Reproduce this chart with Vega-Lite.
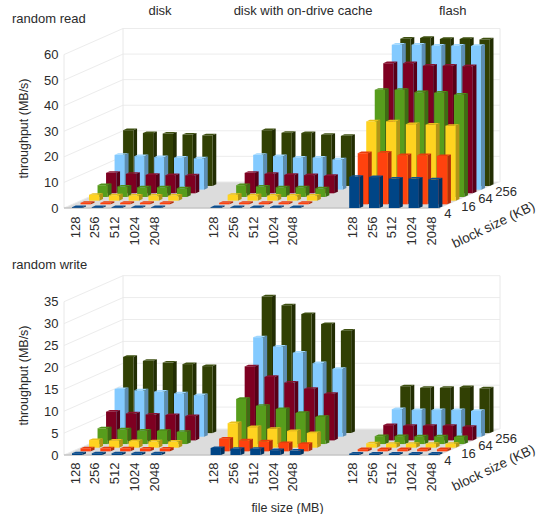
{"$schema":"https://vega.github.io/schema/vega-lite/v6.json","padding":{"left":12,"top":5,"right":0,"bottom":0},"spacing":67,"bounds":"flush","config":{"view":{"stroke":null},"font":"Liberation Sans","text":{"font":"Liberation Sans","fontSize":13,"color":"#2b2b2b"},"axis":{"labelFont":"Liberation Sans","titleFont":"Liberation Sans","labelFontSize":13,"titleFontSize":12.5,"labelColor":"#2b2b2b","titleColor":"#2b2b2b","titleFontWeight":"normal","grid":false,"domain":false,"ticks":false,"labelOverlap":false,"labelFlush":false,"labelBound":false}},"datasets":{"read":[
{"device":"disk","file":128,"block":256,"v":21.8},{"device":"disk","file":256,"block":256,"v":20.7},{"device":"disk","file":512,"block":256,"v":20.5},{"device":"disk","file":1024,"block":256,"v":20.1},{"device":"disk","file":2048,"block":256,"v":19.8},
{"device":"disk with on-drive cache","file":128,"block":256,"v":21.8},{"device":"disk with on-drive cache","file":256,"block":256,"v":20.8},{"device":"disk with on-drive cache","file":512,"block":256,"v":20.7},{"device":"disk with on-drive cache","file":1024,"block":256,"v":20.0},{"device":"disk with on-drive cache","file":2048,"block":256,"v":19.6},
{"device":"flash","file":128,"block":256,"v":57.6},{"device":"flash","file":256,"block":256,"v":57.9},{"device":"flash","file":512,"block":256,"v":57.5},{"device":"flash","file":1024,"block":256,"v":57.5},{"device":"flash","file":2048,"block":256,"v":57.3},
{"device":"disk","file":128,"block":128,"v":13.6},{"device":"disk","file":256,"block":128,"v":13.1},{"device":"disk","file":512,"block":128,"v":12.7},{"device":"disk","file":1024,"block":128,"v":12.5},{"device":"disk","file":2048,"block":128,"v":12.2},
{"device":"disk with on-drive cache","file":128,"block":128,"v":13.6},{"device":"disk with on-drive cache","file":256,"block":128,"v":13.1},{"device":"disk with on-drive cache","file":512,"block":128,"v":12.5},{"device":"disk with on-drive cache","file":1024,"block":128,"v":12.5},{"device":"disk with on-drive cache","file":2048,"block":128,"v":11.8},
{"device":"flash","file":128,"block":128,"v":56.7},{"device":"flash","file":256,"block":128,"v":56.7},{"device":"flash","file":512,"block":128,"v":56.3},{"device":"flash","file":1024,"block":128,"v":56.3},{"device":"flash","file":2048,"block":128,"v":56.2},
{"device":"disk","file":128,"block":64,"v":8.0},{"device":"disk","file":256,"block":64,"v":7.6},{"device":"disk","file":512,"block":64,"v":7.2},{"device":"disk","file":1024,"block":64,"v":7.1},{"device":"disk","file":2048,"block":64,"v":7.0},
{"device":"disk with on-drive cache","file":128,"block":64,"v":8.0},{"device":"disk with on-drive cache","file":256,"block":64,"v":7.6},{"device":"disk with on-drive cache","file":512,"block":64,"v":7.2},{"device":"disk with on-drive cache","file":1024,"block":64,"v":7.1},{"device":"disk with on-drive cache","file":2048,"block":64,"v":6.8},
{"device":"flash","file":128,"block":64,"v":50.9},{"device":"flash","file":256,"block":64,"v":50.9},{"device":"flash","file":512,"block":64,"v":49.9},{"device":"flash","file":1024,"block":64,"v":49.9},{"device":"flash","file":2048,"block":64,"v":49.7},
{"device":"disk","file":128,"block":32,"v":4.6},{"device":"disk","file":256,"block":32,"v":4.1},{"device":"disk","file":512,"block":32,"v":3.8},{"device":"disk","file":1024,"block":32,"v":3.8},{"device":"disk","file":2048,"block":32,"v":3.4},
{"device":"disk with on-drive cache","file":128,"block":32,"v":4.6},{"device":"disk with on-drive cache","file":256,"block":32,"v":4.1},{"device":"disk with on-drive cache","file":512,"block":32,"v":3.8},{"device":"disk with on-drive cache","file":1024,"block":32,"v":3.8},{"device":"disk with on-drive cache","file":2048,"block":32,"v":3.4},
{"device":"flash","file":128,"block":32,"v":41.9},{"device":"flash","file":256,"block":32,"v":41.9},{"device":"flash","file":512,"block":32,"v":41.0},{"device":"flash","file":1024,"block":32,"v":40.8},{"device":"flash","file":2048,"block":32,"v":40.0},
{"device":"disk","file":128,"block":16,"v":2.3},{"device":"disk","file":256,"block":16,"v":2.1},{"device":"disk","file":512,"block":16,"v":2.0},{"device":"disk","file":1024,"block":16,"v":2.0},{"device":"disk","file":2048,"block":16,"v":2.0},
{"device":"disk with on-drive cache","file":128,"block":16,"v":2.3},{"device":"disk with on-drive cache","file":256,"block":16,"v":2.1},{"device":"disk with on-drive cache","file":512,"block":16,"v":2.0},{"device":"disk with on-drive cache","file":1024,"block":16,"v":2.0},{"device":"disk with on-drive cache","file":2048,"block":16,"v":2.0},
{"device":"flash","file":128,"block":16,"v":31.0},{"device":"flash","file":256,"block":16,"v":31.0},{"device":"flash","file":512,"block":16,"v":29.9},{"device":"flash","file":1024,"block":16,"v":29.7},{"device":"flash","file":2048,"block":16,"v":29.3},
{"device":"disk","file":128,"block":8,"v":0.6},{"device":"disk","file":256,"block":8,"v":0.6},{"device":"disk","file":512,"block":8,"v":0.6},{"device":"disk","file":1024,"block":8,"v":0.6},{"device":"disk","file":2048,"block":8,"v":0.6},
{"device":"disk with on-drive cache","file":128,"block":8,"v":0.6},{"device":"disk with on-drive cache","file":256,"block":8,"v":0.6},{"device":"disk with on-drive cache","file":512,"block":8,"v":0.6},{"device":"disk with on-drive cache","file":1024,"block":8,"v":0.6},{"device":"disk with on-drive cache","file":2048,"block":8,"v":0.6},
{"device":"flash","file":128,"block":8,"v":20.0},{"device":"flash","file":256,"block":8,"v":20.2},{"device":"flash","file":512,"block":8,"v":19.2},{"device":"flash","file":1024,"block":8,"v":19.2},{"device":"flash","file":2048,"block":8,"v":18.9},
{"device":"disk","file":128,"block":4,"v":0.3},{"device":"disk","file":256,"block":4,"v":0.3},{"device":"disk","file":512,"block":4,"v":0.3},{"device":"disk","file":1024,"block":4,"v":0.3},{"device":"disk","file":2048,"block":4,"v":0.3},
{"device":"disk with on-drive cache","file":128,"block":4,"v":0.3},{"device":"disk with on-drive cache","file":256,"block":4,"v":0.3},{"device":"disk with on-drive cache","file":512,"block":4,"v":0.3},{"device":"disk with on-drive cache","file":1024,"block":4,"v":0.3},{"device":"disk with on-drive cache","file":2048,"block":4,"v":0.3},
{"device":"flash","file":128,"block":4,"v":12.2},{"device":"flash","file":256,"block":4,"v":12.1},{"device":"flash","file":512,"block":4,"v":11.5},{"device":"flash","file":1024,"block":4,"v":11.5},{"device":"flash","file":2048,"block":4,"v":11.2}
],"write":[
{"device":"disk","file":128,"block":256,"v":17.4},{"device":"disk","file":256,"block":256,"v":16.5},{"device":"disk","file":512,"block":256,"v":16.1},{"device":"disk","file":1024,"block":256,"v":15.75},{"device":"disk","file":2048,"block":256,"v":15.3},
{"device":"disk with on-drive cache","file":128,"block":256,"v":31.2},{"device":"disk with on-drive cache","file":256,"block":256,"v":29.2},{"device":"disk with on-drive cache","file":512,"block":256,"v":27.2},{"device":"disk with on-drive cache","file":1024,"block":256,"v":24.9},{"device":"disk with on-drive cache","file":2048,"block":256,"v":23.4},
{"device":"flash","file":128,"block":256,"v":10.7},{"device":"flash","file":256,"block":256,"v":10.35},{"device":"flash","file":512,"block":256,"v":10.35},{"device":"flash","file":1024,"block":256,"v":10.5},{"device":"flash","file":2048,"block":256,"v":10.2},
{"device":"disk","file":128,"block":128,"v":10.9},{"device":"disk","file":256,"block":128,"v":10.6},{"device":"disk","file":512,"block":128,"v":10.3},{"device":"disk","file":1024,"block":128,"v":9.9},{"device":"disk","file":2048,"block":128,"v":9.5},
{"device":"disk with on-drive cache","file":128,"block":128,"v":22.7},{"device":"disk with on-drive cache","file":256,"block":128,"v":20.6},{"device":"disk with on-drive cache","file":512,"block":128,"v":19.2},{"device":"disk with on-drive cache","file":1024,"block":128,"v":16.8},{"device":"disk with on-drive cache","file":2048,"block":128,"v":15.5},
{"device":"flash","file":128,"block":128,"v":6.3},{"device":"flash","file":256,"block":128,"v":6.1},{"device":"flash","file":512,"block":128,"v":6.1},{"device":"flash","file":1024,"block":128,"v":6.1},{"device":"flash","file":2048,"block":128,"v":5.9},
{"device":"disk","file":128,"block":64,"v":6.55},{"device":"disk","file":256,"block":64,"v":6.15},{"device":"disk","file":512,"block":64,"v":5.9},{"device":"disk","file":1024,"block":64,"v":5.8},{"device":"disk","file":2048,"block":64,"v":5.55},
{"device":"disk with on-drive cache","file":128,"block":64,"v":16.9},{"device":"disk with on-drive cache","file":256,"block":64,"v":14.5},{"device":"disk with on-drive cache","file":512,"block":64,"v":13.2},{"device":"disk with on-drive cache","file":1024,"block":64,"v":11.8},{"device":"disk with on-drive cache","file":2048,"block":64,"v":10.65},
{"device":"flash","file":128,"block":64,"v":3.5},{"device":"flash","file":256,"block":64,"v":3.35},{"device":"flash","file":512,"block":64,"v":3.35},{"device":"flash","file":1024,"block":64,"v":3.35},{"device":"flash","file":2048,"block":64,"v":3.1},
{"device":"disk","file":128,"block":32,"v":3.6},{"device":"disk","file":256,"block":32,"v":3.35},{"device":"disk","file":512,"block":32,"v":3.05},{"device":"disk","file":1024,"block":32,"v":3.0},{"device":"disk","file":2048,"block":32,"v":2.8},
{"device":"disk with on-drive cache","file":128,"block":32,"v":10.3},{"device":"disk with on-drive cache","file":256,"block":32,"v":8.75},{"device":"disk with on-drive cache","file":512,"block":32,"v":8.0},{"device":"disk with on-drive cache","file":1024,"block":32,"v":7.1},{"device":"disk with on-drive cache","file":2048,"block":32,"v":6.2},
{"device":"flash","file":128,"block":32,"v":1.8},{"device":"flash","file":256,"block":32,"v":1.8},{"device":"flash","file":512,"block":32,"v":1.75},{"device":"flash","file":1024,"block":32,"v":1.75},{"device":"flash","file":2048,"block":32,"v":1.6},
{"device":"disk","file":128,"block":16,"v":1.75},{"device":"disk","file":256,"block":16,"v":1.6},{"device":"disk","file":512,"block":16,"v":1.5},{"device":"disk","file":1024,"block":16,"v":1.45},{"device":"disk","file":2048,"block":16,"v":1.4},
{"device":"disk with on-drive cache","file":128,"block":16,"v":5.6},{"device":"disk with on-drive cache","file":256,"block":16,"v":4.7},{"device":"disk with on-drive cache","file":512,"block":16,"v":4.3},{"device":"disk with on-drive cache","file":1024,"block":16,"v":3.8},{"device":"disk with on-drive cache","file":2048,"block":16,"v":3.35},
{"device":"flash","file":128,"block":16,"v":1.0},{"device":"flash","file":256,"block":16,"v":0.9},{"device":"flash","file":512,"block":16,"v":0.9},{"device":"flash","file":1024,"block":16,"v":0.9},{"device":"flash","file":2048,"block":16,"v":0.9},
{"device":"disk","file":128,"block":8,"v":0.7},{"device":"disk","file":256,"block":8,"v":0.7},{"device":"disk","file":512,"block":8,"v":0.7},{"device":"disk","file":1024,"block":8,"v":0.65},{"device":"disk","file":2048,"block":8,"v":0.65},
{"device":"disk with on-drive cache","file":128,"block":8,"v":2.9},{"device":"disk with on-drive cache","file":256,"block":8,"v":2.5},{"device":"disk with on-drive cache","file":512,"block":8,"v":2.3},{"device":"disk with on-drive cache","file":1024,"block":8,"v":1.9},{"device":"disk with on-drive cache","file":2048,"block":8,"v":1.7},
{"device":"flash","file":128,"block":8,"v":0.5},{"device":"flash","file":256,"block":8,"v":0.5},{"device":"flash","file":512,"block":8,"v":0.5},{"device":"flash","file":1024,"block":8,"v":0.5},{"device":"flash","file":2048,"block":8,"v":0.5},
{"device":"disk","file":128,"block":4,"v":0.4},{"device":"disk","file":256,"block":4,"v":0.4},{"device":"disk","file":512,"block":4,"v":0.4},{"device":"disk","file":1024,"block":4,"v":0.4},{"device":"disk","file":2048,"block":4,"v":0.4},
{"device":"disk with on-drive cache","file":128,"block":4,"v":1.6},{"device":"disk with on-drive cache","file":256,"block":4,"v":1.4},{"device":"disk with on-drive cache","file":512,"block":4,"v":1.4},{"device":"disk with on-drive cache","file":1024,"block":4,"v":1.1},{"device":"disk with on-drive cache","file":2048,"block":4,"v":1.0},
{"device":"flash","file":128,"block":4,"v":0.3},{"device":"flash","file":256,"block":4,"v":0.3},{"device":"flash","file":512,"block":4,"v":0.3},{"device":"flash","file":1024,"block":4,"v":0.3},{"device":"flash","file":2048,"block":4,"v":0.3}
]},"vconcat":[
{"width":436,"height":180,"title":{"text":"random read","anchor":"start","frame":"group","dx":-52,"offset":-20.5,"fontSize":13,"fontWeight":"normal","font":"Liberation Sans","color":"#2b2b2b"},"layer":[
{"data":{"values":[{"depth":0},{"depth":7}]},"transform":[{"calculate":"datum.depth*0.4257","as":"a"},{"calculate":"datum.a+19","as":"b"},{"calculate":"datum.depth*1.45","as":"h"}],"mark":{"type":"area","orient":"horizontal","color":"#dcdcdc"},"encoding":{"x":{"field":"a","type":"quantitative","scale":{"domain":[0,22.02],"nice":false},"axis":{"values":[0.56,1.56,2.56,3.56,4.56,7.56,8.56,9.56,10.56,11.56,14.56,15.56,16.56,17.56,18.56],"tickCount":40,"labelExpr":"['128','256','512','1024','2048'][floor(datum.value)%7]","labelAngle":-90,"labelAlign":"right","labelBaseline":"middle","labelPadding":8,"title":null}},"x2":{"field":"b"},"y":{"field":"h","type":"quantitative","scale":{"domain":[0,70.4],"nice":false},"axis":{"values":[0,10,20,30,40,50,60],"tickCount":40,"labelPadding":6,"title":"throughput (MB/s)","titleX":-34,"titleY":100}}}},
{"data":{"values":[{"t":0},{"t":10},{"t":20},{"t":30},{"t":40},{"t":50},{"t":60}]},"transform":[{"calculate":"datum.t+10.2","as":"t2"}],"mark":{"type":"rule","color":"#ececec","strokeWidth":1},"encoding":{"x":{"datum":0,"type":"quantitative"},"x2":{"datum":2.98},"y":{"field":"t","type":"quantitative"},"y2":{"field":"t2"}}},
{"data":{"values":[{"t":0},{"t":10},{"t":20},{"t":30},{"t":40},{"t":50},{"t":60}]},"transform":[{"calculate":"datum.t+10.2","as":"t2"}],"mark":{"type":"rule","color":"#ececec","strokeWidth":1},"encoding":{"x":{"datum":2.98,"type":"quantitative"},"x2":{"datum":22.02},"y":{"field":"t2","type":"quantitative"}}},
{"data":{"values":[{"at":0,"lo":0,"hi":60},{"at":2.98,"lo":10.2,"hi":70.2},{"at":22.02,"lo":10.2,"hi":70.2}]},"mark":{"type":"rule","color":"#e8e8e8","strokeWidth":1},"encoding":{"x":{"field":"at","type":"quantitative"},"y":{"field":"lo","type":"quantitative"},"y2":{"field":"hi"}}},
{"data":{"values":[{"d":0}]},"mark":{"type":"rule","color":"#c6c6c6","strokeWidth":1.5},"encoding":{"x":{"datum":0,"type":"quantitative"},"x2":{"datum":19},"y":{"field":"d","type":"quantitative"}}},
{"data":{"name":"read"},"transform":[{"calculate":"indexof(['disk','disk with on-drive cache','flash'],datum.device)","as":"g"},{"calculate":"indexof([128,256,512,1024,2048],datum.file)","as":"f"},{"calculate":"indexof([4,8,16,32,64,128,256],datum.block)","as":"d"},{"calculate":"7*datum.g+datum.f+0.404+datum.d*0.43","as":"x0"},{"calculate":"datum.d*1.437","as":"y0"},{"calculate":"datum.y0+datum.v","as":"y1"},{"calculate":"['top','side','front']","as":"face"},{"flatten":["face"]},{"calculate":"[0,1,2,3]","as":"corner"},{"flatten":["corner"]},{"calculate":"datum.x0+(datum.face=='front'?[0,0,0.52,0.52]:datum.face=='side'?[0.52,0.52,0.707,0.707]:[0,0.187,0.52,0.707])[datum.corner]","as":"X"},{"calculate":"datum.face=='front'?datum.y0:datum.face=='side'?datum.y0+[0,0,0.63,0.63][datum.corner]:datum.y1+[0,0,0,0.63][datum.corner]","as":"Lo"},{"calculate":"datum.face=='front'?datum.y1:datum.y1+(datum.face=='side'?[0,0,0.63,0.63]:[0,0.63,0.63,0.63])[datum.corner]","as":"Hi"},{"calculate":"'b'+datum.device+'_'+datum.file+'_'+datum.block+'_'+datum.face","as":"id"},{"calculate":"datum.block+'_'+datum.face","as":"shade"}],"mark":{"type":"area","orient":"vertical","interpolate":"linear"},"encoding":{"x":{"field":"X","type":"quantitative"},"y":{"field":"Lo","type":"quantitative","stack":null},"y2":{"field":"Hi"},"detail":{"field":"id"},"color":{"field":"shade","type":"nominal","legend":null,"sort":null,"scale":{"domain":["4_front","4_side","4_top","8_front","8_side","8_top","16_front","16_side","16_top","32_front","32_side","32_top","64_front","64_side","64_top","128_front","128_side","128_top","256_front","256_side","256_top"],"range":["#004586","#00305e","#0d4f90","#ff420e","#b32e0a","#e83d0d","#ffd320","#b39416","#e8c01d","#579d1c","#3d6e14","#4f8f1a","#7e0021","#580017","#8a1030","#83caff","#5c8db3","#a0d8ff","#314004","#222d03","#3e5010"]}}}},
{"data":{"values":[{"block":4},{"block":16},{"block":64},{"block":256}]},"transform":[{"calculate":"indexof([4,8,16,32,64,128,256],datum.block)","as":"d"},{"calculate":"19+datum.d*0.43","as":"lx"},{"calculate":"datum.d*1.437","as":"ly"}],"mark":{"type":"text","align":"left","baseline":"middle","dx":4,"dy":6,"fontSize":13},"encoding":{"x":{"field":"lx","type":"quantitative"},"y":{"field":"ly","type":"quantitative"},"text":{"field":"block"}}},
{"data":{"values":[{"label":"block size (KB)"}]},"mark":{"type":"text","align":"center","baseline":"middle","angle":-25.6,"fontSize":13.5},"encoding":{"x":{"datum":21.7,"type":"quantitative"},"y":{"datum":-6.7,"type":"quantitative"},"text":{"field":"label"}}},
{"data":{"values":[{"device":"disk"},{"device":"disk with on-drive cache"},{"device":"flash"}]},"transform":[{"calculate":"{'disk':4.85,'disk with on-drive cache':12.07,'flash':19.63}[datum.device]","as":"hx"}],"mark":{"type":"text","align":"center","baseline":"middle","fontSize":13},"encoding":{"x":{"field":"hx","type":"quantitative"},"y":{"datum":77,"type":"quantitative"},"text":{"field":"device"}}}
]},
{"width":436,"height":180,"title":{"text":"random write","anchor":"start","frame":"group","dx":-52,"offset":3,"fontSize":13,"fontWeight":"normal","font":"Liberation Sans","color":"#2b2b2b"},"layer":[
{"data":{"values":[{"depth":0},{"depth":7}]},"transform":[{"calculate":"datum.depth*0.4257","as":"a"},{"calculate":"datum.a+19","as":"b"},{"calculate":"datum.depth*0.85","as":"h"}],"mark":{"type":"area","orient":"horizontal","color":"#dcdcdc"},"encoding":{"x":{"field":"a","type":"quantitative","scale":{"domain":[0,22.02],"nice":false},"axis":{"values":[0.56,1.56,2.56,3.56,4.56,7.56,8.56,9.56,10.56,11.56,14.56,15.56,16.56,17.56,18.56],"tickCount":40,"labelExpr":"['128','256','512','1024','2048'][floor(datum.value)%7]","labelAngle":-90,"labelAlign":"right","labelBaseline":"middle","labelPadding":7,"title":"file size (MB)","titleX":223,"titleY":46}},"x2":{"field":"b"},"y":{"field":"h","type":"quantitative","scale":{"domain":[0,41.1],"nice":false},"axis":{"values":[0,5,10,15,20,25,30,35],"tickCount":40,"labelPadding":6,"title":"throughput (MB/s)","titleX":-34,"titleY":100}}}},
{"data":{"values":[{"t":0},{"t":5},{"t":10},{"t":15},{"t":20},{"t":25},{"t":30},{"t":35}]},"transform":[{"calculate":"datum.t+5.94","as":"t2"}],"mark":{"type":"rule","color":"#ececec","strokeWidth":1},"encoding":{"x":{"datum":0,"type":"quantitative"},"x2":{"datum":2.98},"y":{"field":"t","type":"quantitative"},"y2":{"field":"t2"}}},
{"data":{"values":[{"t":0},{"t":5},{"t":10},{"t":15},{"t":20},{"t":25},{"t":30},{"t":35}]},"transform":[{"calculate":"datum.t+5.94","as":"t2"}],"mark":{"type":"rule","color":"#ececec","strokeWidth":1},"encoding":{"x":{"datum":2.98,"type":"quantitative"},"x2":{"datum":22.02},"y":{"field":"t2","type":"quantitative"}}},
{"data":{"values":[{"at":0,"lo":0,"hi":35},{"at":2.98,"lo":5.94,"hi":40.94},{"at":22.02,"lo":5.94,"hi":40.94}]},"mark":{"type":"rule","color":"#e8e8e8","strokeWidth":1},"encoding":{"x":{"field":"at","type":"quantitative"},"y":{"field":"lo","type":"quantitative"},"y2":{"field":"hi"}}},
{"data":{"values":[{"d":0}]},"mark":{"type":"rule","color":"#c6c6c6","strokeWidth":1.5},"encoding":{"x":{"datum":0,"type":"quantitative"},"x2":{"datum":19},"y":{"field":"d","type":"quantitative"}}},
{"data":{"name":"write"},"transform":[{"calculate":"indexof(['disk','disk with on-drive cache','flash'],datum.device)","as":"g"},{"calculate":"indexof([128,256,512,1024,2048],datum.file)","as":"f"},{"calculate":"indexof([4,8,16,32,64,128,256],datum.block)","as":"d"},{"calculate":"7*datum.g+datum.f+0.404+datum.d*0.43","as":"x0"},{"calculate":"datum.d*0.833","as":"y0"},{"calculate":"datum.y0+datum.v","as":"y1"},{"calculate":"['top','side','front']","as":"face"},{"flatten":["face"]},{"calculate":"[0,1,2,3]","as":"corner"},{"flatten":["corner"]},{"calculate":"datum.x0+(datum.face=='front'?[0,0,0.52,0.52]:datum.face=='side'?[0.52,0.52,0.707,0.707]:[0,0.187,0.52,0.707])[datum.corner]","as":"X"},{"calculate":"datum.face=='front'?datum.y0:datum.face=='side'?datum.y0+[0,0,0.365,0.365][datum.corner]:datum.y1+[0,0,0,0.365][datum.corner]","as":"Lo"},{"calculate":"datum.face=='front'?datum.y1:datum.y1+(datum.face=='side'?[0,0,0.365,0.365]:[0,0.365,0.365,0.365])[datum.corner]","as":"Hi"},{"calculate":"'b'+datum.device+'_'+datum.file+'_'+datum.block+'_'+datum.face","as":"id"},{"calculate":"datum.block+'_'+datum.face","as":"shade"}],"mark":{"type":"area","orient":"vertical","interpolate":"linear"},"encoding":{"x":{"field":"X","type":"quantitative"},"y":{"field":"Lo","type":"quantitative","stack":null},"y2":{"field":"Hi"},"detail":{"field":"id"},"color":{"field":"shade","type":"nominal","legend":null,"sort":null,"scale":{"domain":["4_front","4_side","4_top","8_front","8_side","8_top","16_front","16_side","16_top","32_front","32_side","32_top","64_front","64_side","64_top","128_front","128_side","128_top","256_front","256_side","256_top"],"range":["#004586","#00305e","#0d4f90","#ff420e","#b32e0a","#e83d0d","#ffd320","#b39416","#e8c01d","#579d1c","#3d6e14","#4f8f1a","#7e0021","#580017","#8a1030","#83caff","#5c8db3","#a0d8ff","#314004","#222d03","#3e5010"]}}}},
{"data":{"values":[{"block":4},{"block":16},{"block":64},{"block":256}]},"transform":[{"calculate":"indexof([4,8,16,32,64,128,256],datum.block)","as":"d"},{"calculate":"19+datum.d*0.43","as":"lx"},{"calculate":"datum.d*0.833","as":"ly"}],"mark":{"type":"text","align":"left","baseline":"middle","dx":4,"dy":6,"fontSize":13},"encoding":{"x":{"field":"lx","type":"quantitative"},"y":{"field":"ly","type":"quantitative"},"text":{"field":"block"}}},
{"data":{"values":[{"label":"block size (KB)"}]},"mark":{"type":"text","align":"center","baseline":"middle","angle":-25.6,"fontSize":13.5},"encoding":{"x":{"datum":21.7,"type":"quantitative"},"y":{"datum":-3,"type":"quantitative"},"text":{"field":"label"}}}
]}
]}
